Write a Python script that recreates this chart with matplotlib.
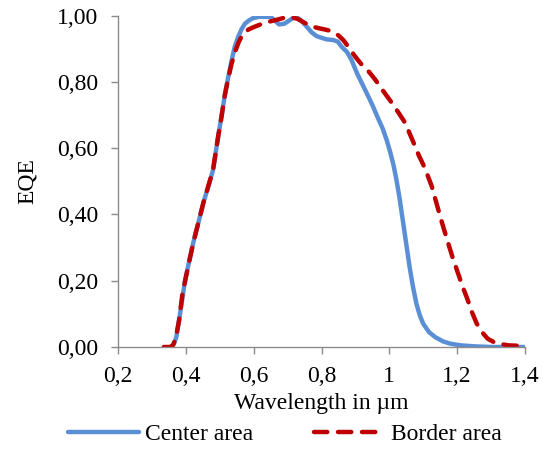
import matplotlib
matplotlib.use("Agg")
import matplotlib.pyplot as plt
from matplotlib.ticker import FuncFormatter

# Center area (blue solid)
x_center = [0.355, 0.365, 0.372, 0.382, 0.397, 0.41, 0.422, 0.437, 0.452, 0.467, 0.48,
            0.486, 0.495, 0.505, 0.515, 0.525, 0.535, 0.544, 0.554, 0.564, 0.574, 0.586,
            0.598, 0.615, 0.635, 0.65, 0.662, 0.675, 0.69, 0.705, 0.72, 0.729, 0.739, 0.755,
            0.77, 0.785, 0.799, 0.815, 0.835, 0.848, 0.86, 0.875, 0.888, 0.905, 0.928,
            0.95, 0.968, 0.98, 0.992, 1.002, 1.012, 1.02, 1.03, 1.04, 1.05, 1.06,
            1.07, 1.08, 1.09, 1.10, 1.117, 1.135, 1.158, 1.18, 1.21, 1.25, 1.30, 1.40]
y_center = [0.0, 0.01, 0.03, 0.094, 0.196, 0.26, 0.315, 0.375, 0.436, 0.487, 0.533,
            0.573, 0.633, 0.694, 0.76, 0.814, 0.864, 0.905, 0.935, 0.958, 0.975, 0.985,
            0.992, 0.996, 0.996, 0.996, 0.985, 0.973, 0.975, 0.985, 0.995, 0.993, 0.986, 0.968,
            0.95, 0.938, 0.933, 0.928, 0.926, 0.921, 0.905, 0.89, 0.867, 0.825, 0.777,
            0.73, 0.687, 0.66, 0.625, 0.59, 0.55, 0.51, 0.45, 0.38, 0.31, 0.24,
            0.18, 0.13, 0.095, 0.07, 0.045, 0.03, 0.017, 0.01, 0.005, 0.002, 0.0, 0.0]

# Border area (red dashed)
x_border = [0.335, 0.355, 0.362, 0.37, 0.38, 0.39, 0.40, 0.422, 0.452, 0.48, 0.486,
            0.495, 0.505, 0.515, 0.525, 0.535, 0.545, 0.556, 0.565, 0.574, 0.585, 0.60,
            0.62, 0.64, 0.66, 0.69, 0.71, 0.729, 0.75, 0.77, 0.79, 0.809, 0.829, 0.85,
            0.865, 0.878, 0.90, 0.92, 0.94, 0.958, 0.98, 1.007, 1.025, 1.046, 1.067, 1.087,
            1.10, 1.112, 1.125, 1.14, 1.155, 1.17, 1.185, 1.20, 1.215, 1.23, 1.244, 1.258,
            1.274, 1.29, 1.313, 1.35, 1.40]
y_border = [0.0, 0.0, 0.005, 0.025, 0.08, 0.16, 0.21, 0.315, 0.436, 0.533, 0.573,
            0.633, 0.694, 0.76, 0.81, 0.855, 0.89, 0.92, 0.938, 0.95, 0.958, 0.965,
            0.973, 0.98, 0.985, 0.993, 0.995, 0.99, 0.978, 0.968, 0.962, 0.958, 0.953, 0.94,
            0.925, 0.907, 0.875, 0.85, 0.83, 0.807, 0.775, 0.737, 0.71, 0.677, 0.627, 0.578,
            0.55, 0.52, 0.485, 0.43, 0.376, 0.325, 0.275, 0.23, 0.185, 0.145, 0.104, 0.07,
            0.044, 0.025, 0.012, 0.005, 0.003]

x_ticks = [0.2, 0.4, 0.6, 0.8, 1.0, 1.2, 1.4]
y_ticks = [0.0, 0.2, 0.4, 0.6, 0.8, 1.0]

plt.rcParams["font.family"] = ["Liberation Serif", "DejaVu Serif"]
fig = plt.figure(figsize=(5.49, 4.49), dpi=100)
ax = fig.add_axes([118 / 549, 1 - 347 / 449, 407 / 549, 331.5 / 449])

ax.plot(x_center, y_center, color="#5A8FD6", lw=3.2, label="Center area",
        solid_capstyle="round", solid_joinstyle="round")
ax.plot(x_border, y_border, color="#C00000", lw=3.2, ls=(0, (3.0, 2.4)), label="Border area",
        dash_capstyle="round", dash_joinstyle="round")

ax.set_xlim(0.2, 1.4)
ax.set_ylim(0, 1.0)
ax.set_xticks(x_ticks)
ax.set_yticks(y_ticks)
ax.xaxis.set_major_formatter(FuncFormatter(lambda v, p: ("%g" % round(v, 1)).replace(".", ",")))
ax.yaxis.set_major_formatter(FuncFormatter(lambda v, p: ("%.2f" % v).replace(".", ",")))

for s in ("top", "right"):
    ax.spines[s].set_visible(False)
for s in ("left", "bottom"):
    ax.spines[s].set_color("#8C8C8C")
    ax.spines[s].set_linewidth(1.0)
ax.tick_params(colors="#8C8C8C", labelcolor="black", labelsize=17, length=5, width=1.0)
ax.tick_params(axis="y", pad=9)
ax.tick_params(axis="x", pad=9)

ax.set_xlabel("Wavelength in µm", fontsize=17, labelpad=4)
ax.set_ylabel("EQE", fontsize=17, labelpad=14)

ax.legend(loc="center left", bbox_to_anchor=(68 / 549, 1 - 434 / 449),
          bbox_transform=fig.transFigure, ncol=2, frameon=False, fontsize=17,
          handlelength=3.0, handletextpad=0.25, columnspacing=2.6,
          borderpad=0, borderaxespad=0)

fig.savefig("out.png", dpi=100)
